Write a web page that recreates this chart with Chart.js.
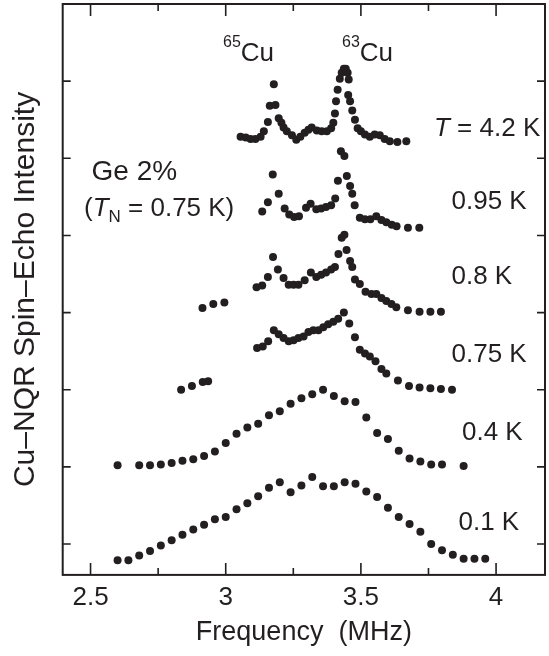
<!DOCTYPE html>
<html>
<head>
<meta charset="utf-8">
<title>Cu-NQR spectra, Ge 2%</title>
<script src="https://cdn.jsdelivr.net/npm/chart.js@4.4.1/dist/chart.umd.min.js"></script>
<style>
  html, body { margin: 0; padding: 0; background: #fff; }
  #wrap { width: 549px; height: 656px; position: relative; }
</style>
</head>
<body>
<div id="wrap"><canvas id="nqr"></canvas></div>
<script>
// Cu-NQR spin-echo spectra, curves offset vertically by temperature

// T = 4.2 K
const freq42 = [3.055, 3.074, 3.092, 3.110, 3.129, 3.141, 3.156, 3.163, 3.178, 3.184, 3.196, 3.206,
  3.214, 3.226, 3.245, 3.261, 3.276, 3.292, 3.306, 3.318, 3.337, 3.355, 3.374, 3.390, 3.398, 3.404,
  3.408, 3.414, 3.422, 3.429, 3.437, 3.444, 3.451, 3.455, 3.453, 3.460, 3.468, 3.478, 3.488, 3.500,
  3.515, 3.533, 3.551, 3.570, 3.588, 3.607, 3.635, 3.668];
const int42 = [5.28, 5.27, 5.25, 5.25, 5.28, 5.35, 5.47, 5.68, 5.96, 5.69, 5.52, 5.46,
  5.40, 5.35, 5.30, 5.24, 5.28, 5.33, 5.37, 5.40, 5.36, 5.35, 5.35, 5.39, 5.46, 5.58,
  5.74, 5.89, 6.03, 6.11, 6.16, 6.16, 6.11, 6.02, 5.82, 5.74, 5.62, 5.50, 5.39, 5.35,
  5.31, 5.28, 5.31, 5.30, 5.25, 5.22, 5.21, 5.22];

// 0.95 K
const freq095 = [3.135, 3.156, 3.174, 3.196, 3.218, 3.235, 3.253, 3.271, 3.297, 3.314, 3.335, 3.353,
  3.371, 3.390, 3.405, 3.415, 3.426, 3.439, 3.448, 3.460, 3.468, 3.477, 3.496, 3.515, 3.535, 3.557,
  3.576, 3.594, 3.614, 3.632, 3.674, 3.716];
const int095 = [4.31, 4.43, 4.79, 4.54, 4.35, 4.27, 4.24, 4.25, 4.36, 4.41, 4.34, 4.35,
  4.37, 4.39, 4.48, 4.71, 5.09, 5.03, 4.77, 4.64, 4.54, 4.39, 4.23, 4.21, 4.21, 4.25,
  4.20, 4.17, 4.14, 4.12, 4.10, 4.10];

// 0.8 K
const freq08 = [2.914, 2.954, 2.995,
  3.114, 3.135, 3.156, 3.175, 3.193, 3.214, 3.233, 3.251, 3.269, 3.292, 3.315, 3.335, 3.353, 3.371,
  3.390, 3.404, 3.417, 3.429, 3.439, 3.447, 3.460, 3.468, 3.478, 3.496, 3.517, 3.539, 3.557, 3.576,
  3.594, 3.613, 3.631, 3.674, 3.717, 3.757, 3.796];
const int08 = [3.06, 3.11, 3.13,
  3.33, 3.35, 3.46, 3.72, 3.56, 3.45, 3.36, 3.36, 3.36, 3.42, 3.52, 3.46, 3.49, 3.52,
  3.56, 3.59, 3.76, 3.97, 4.01, 3.81, 3.67, 3.59, 3.43, 3.37, 3.27, 3.24, 3.24, 3.19,
  3.15, 3.11, 3.07, 3.03, 3.01, 3.01, 3.01];

// 0.75 K
const freq075 = [2.835, 2.875, 2.915, 2.935,
  3.116, 3.137, 3.157, 3.178, 3.196, 3.214, 3.233, 3.251, 3.269, 3.288, 3.306, 3.324, 3.343, 3.361,
  3.379, 3.398, 3.416, 3.437, 3.457, 3.478, 3.496, 3.515, 3.533, 3.554, 3.576, 3.594, 3.637, 3.678,
  3.717, 3.757, 3.796, 3.837];
const int075 = [2.00, 2.05, 2.10, 2.11,
  2.54, 2.56, 2.63, 2.77, 2.72, 2.67, 2.63, 2.64, 2.67, 2.69, 2.75, 2.77, 2.77, 2.81,
  2.85, 2.88, 2.92, 3.00, 2.86, 2.68, 2.52, 2.47, 2.43, 2.37, 2.27, 2.21, 2.12, 2.05,
  2.03, 2.02, 2.01, 2.00];

// 0.4 K
const freq04 = [2.60, 2.68, 2.72, 2.76, 2.80, 2.84, 2.88, 2.92, 2.96, 3.00, 3.04, 3.08, 3.12, 3.16,
  3.20, 3.24, 3.28, 3.32, 3.36, 3.40, 3.44, 3.48, 3.52, 3.56, 3.60, 3.64, 3.68, 3.72, 3.76, 3.80, 3.88];
const int04 = [1.02, 1.02, 1.02, 1.03, 1.05, 1.08, 1.10, 1.14, 1.20, 1.31, 1.43, 1.51, 1.56, 1.67,
  1.72, 1.82, 1.89, 1.94, 2.00, 1.92, 1.85, 1.84, 1.64, 1.44, 1.36, 1.21, 1.11, 1.07, 1.03, 1.03, 1.01];

// 0.1 K
const freq01 = [2.60, 2.64, 2.68, 2.72, 2.76, 2.80, 2.84, 2.88, 2.92, 2.96, 3.00, 3.04, 3.08, 3.12,
  3.16, 3.20, 3.24, 3.28, 3.32, 3.36, 3.40, 3.44, 3.48, 3.52, 3.56, 3.60, 3.64, 3.68, 3.72, 3.76,
  3.80, 3.84, 3.88, 3.92, 3.96];
const int01 = [-0.21, -0.21, -0.15, -0.09, -0.02, 0.05, 0.12, 0.19, 0.25, 0.32, 0.35, 0.45, 0.53, 0.62,
  0.73, 0.80, 0.67, 0.76, 0.87, 0.75, 0.75, 0.80, 0.78, 0.68, 0.61, 0.47, 0.35, 0.26, 0.16, 0.00,
  -0.08, -0.14, -0.19, -0.19, -0.19];

const tempLabels = ["4.2 K", "0.95 K", "0.8 K", "0.75 K", "0.4 K", "0.1 K"];
const xTickValues = [2.5, 2.75, 3, 3.25, 3.5, 3.75, 4];
const yTickValues = [0, 1, 2, 3, 4, 5, 6];

const INK = "#231f20";
const FONT = "'Liberation Sans', Arial, Helvetica, sans-serif";

const series = [
  [freq42, int42], [freq095, int095], [freq08, int08],
  [freq075, int075], [freq04, int04], [freq01, int01]
];

function toPoints(xs, ys) {
  return xs.map((x, i) => ({ x: x, y: ys[i] }));
}

// frame + inward ticks on all four sides
const frameTicks = {
  id: "frameTicks",
  afterDraw(chart) {
    const { ctx, chartArea: a, scales: { x, y } } = chart;
    ctx.save();
    ctx.strokeStyle = INK;
    ctx.lineWidth = 2;
    ctx.strokeRect(a.left, a.top, a.right - a.left, a.bottom - a.top);
    ctx.lineWidth = 1.6;
    ctx.beginPath();
    xTickValues.forEach(v => {
      const px = x.getPixelForValue(v);
      const len = (v * 2) % 1 === 0 ? 12 : 7;
      ctx.moveTo(px, a.bottom); ctx.lineTo(px, a.bottom - len);
      ctx.moveTo(px, a.top);    ctx.lineTo(px, a.top + len);
    });
    yTickValues.forEach(v => {
      const py = y.getPixelForValue(v);
      ctx.moveTo(a.left, py);  ctx.lineTo(a.left + 8, py);
      ctx.moveTo(a.right, py); ctx.lineTo(a.right - 8, py);
    });
    ctx.stroke();
    ctx.restore();
  }
};

// text inside the plot; each label is a run of pieces (superscripts, subscripts, italics)
const notes = [
  { x: 223, y: 60.5, parts: [{ t: "65", size: 16, dy: -13.5 }, { t: "Cu" }] },
  { x: 342, y: 60.5, parts: [{ t: "63", size: 16, dy: -13.5 }, { t: "Cu" }] },
  { x: 434, y: 136, parts: [{ t: "T", italic: true }, { t: " = " + tempLabels[0] }] },
  { x: 451.5, y: 209, parts: [{ t: tempLabels[1] }] },
  { x: 451.5, y: 284, parts: [{ t: tempLabels[2] }] },
  { x: 451.5, y: 361.5, parts: [{ t: tempLabels[3] }] },
  { x: 462, y: 440, parts: [{ t: tempLabels[4] }] },
  { x: 458.5, y: 530, parts: [{ t: tempLabels[5] }] },
  { x: 91.5, y: 180, parts: [{ t: "Ge 2%", size: 28 }] },
  { x: 84, y: 216, parts: [{ t: "(" }, { t: "T", italic: true }, { t: "N", size: 17, dy: 6 }, { t: " = 0.75 K)" }] }
];

const noteText = {
  id: "noteText",
  afterDraw(chart) {
    const ctx = chart.ctx;
    ctx.save();
    ctx.fillStyle = INK;
    ctx.textBaseline = "alphabetic";
    ctx.textAlign = "left";
    notes.forEach(n => {
      let cx = n.x;
      n.parts.forEach(p => {
        const size = p.size || 26;
        ctx.font = (p.italic ? "italic " : "") + size + "px " + FONT;
        ctx.fillText(p.t, cx, n.y + (p.dy || 0));
        cx += ctx.measureText(p.t).width;
      });
    });
    ctx.restore();
  }
};

new Chart(document.getElementById("nqr"), {
  type: "scatter",
  data: {
    datasets: series.map(([xs, ys], i) => ({
      label: tempLabels[i],
      data: toPoints(xs, ys),
      pointRadius: 4,
      pointBackgroundColor: INK,
      pointBorderWidth: 0,
      showLine: false
    }))
  },
  options: {
    responsive: true,
    maintainAspectRatio: false,
    animation: false,
    layout: { padding: { top: 2.1, right: 1, left: 0, bottom: 0 } },
    plugins: { legend: { display: false }, tooltip: { enabled: false } },
    scales: {
      x: {
        type: "linear",
        min: 2.397,
        max: 4.181,
        afterBuildTicks: s => { s.ticks = xTickValues.map(v => ({ value: v })); },
        afterFit: s => { s.height = 81.1; },
        grid: { display: false, drawTicks: false },
        border: { display: false },
        ticks: {
          color: INK,
          font: { family: FONT, size: 26 },
          padding: 7,
          maxRotation: 0,
          autoSkip: false,
          callback: v => ((v * 2) % 1 === 0 ? String(v) : "")
        },
        title: {
          display: true,
          text: "Frequency  (MHz)",
          color: INK,
          font: { family: FONT, size: 27 },
          padding: { top: 0, bottom: 7 }
        }
      },
      y: {
        type: "linear",
        min: -0.4,
        max: 7,
        afterBuildTicks: s => { s.ticks = yTickValues.map(v => ({ value: v })); },
        afterFit: s => { s.width = 62.7; },
        grid: { display: false, drawTicks: false },
        border: { display: false },
        ticks: { display: false },
        title: {
          display: true,
          text: "Cu–NQR Spin–Echo Intensity",
          color: INK,
          font: { family: FONT, size: 30 },
          padding: { top: 8, bottom: 0 }
        }
      }
    }
  },
  plugins: [frameTicks, noteText]
});
</script>
</body>
</html>
